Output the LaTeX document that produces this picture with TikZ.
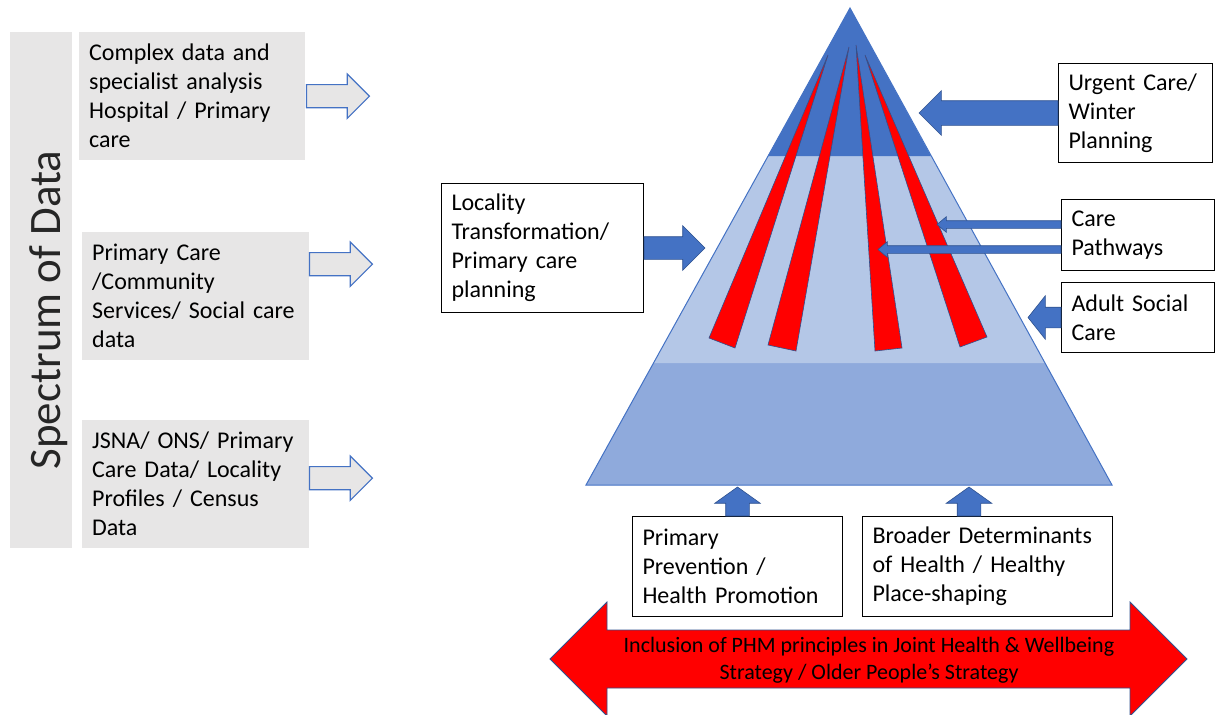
\documentclass[tikz,border=0pt]{standalone}
\usepackage{fontspec}
\setmainfont{Carlito}
\usetikzlibrary{shapes.arrows}

\definecolor{boxgray}{HTML}{E7E6E6}
\definecolor{pyrdark}{HTML}{4472C4}
\definecolor{pyrlight}{HTML}{B4C7E7}
\definecolor{pyrmid}{HTML}{8FAADC}
\definecolor{edgeblue}{HTML}{2F528F}
\definecolor{stripered}{HTML}{FF0000}

\tikzstyle{databox} = [rectangle, fill=boxgray, anchor=north west, align=left, inner xsep=10pt, inner ysep=0pt, font=\fontsize{24}{29}\selectfont]
\tikzstyle{textbox} = [rectangle, draw=black, line width=1pt, fill=white, anchor=north west, align=left, inner xsep=10pt, inner ysep=0pt, font=\fontsize{24}{29}\selectfont]
\tikzstyle{dataarrow} = [single arrow, draw=pyrdark, line width=1.2pt, fill=boxgray, single arrow head extend=10.5pt, single arrow tip angle=90, inner xsep=0pt, inner ysep=11pt, minimum height=63pt, outer sep=0pt, anchor=tail]
\tikzstyle{blockarrow} = [single arrow, draw=edgeblue, line width=0.6pt, fill=pyrdark, inner xsep=0pt, outer sep=0pt, anchor=tail]
\tikzstyle{stripe} = [fill=stripered, draw=edgeblue, line width=0.6pt]
\tikzstyle{strategyarrow} = [fill=stripered, draw=edgeblue, line width=0.8pt]

\begin{document}
\begin{tikzpicture}[x=1pt, y=-1pt]
    \useasboundingbox (0,0) rectangle (1216,715);

        % Pyramid
        \fill[pyrmid] (653.5,363) -- (1045,363) -- (1112,485) -- (586,485) -- cycle;
        \fill[pyrlight] (768,156) -- (931,156) -- (1045,363) -- (653.5,363) -- cycle;
        \fill[pyrdark] (850,8) -- (931,156) -- (768,156) -- cycle;
        \draw[pyrdark, line width=1pt] (850,8) -- (1112,485) -- (586,485) -- cycle;

        % Stripes
        \draw[stripe] (828,55) -- (735,348) -- (709,338) -- cycle;
        \draw[stripe] (849,47) -- (796,351) -- (768,345) -- cycle;
        \draw[stripe] (856,45) -- (902,348) -- (875,351) -- cycle;
        \draw[stripe] (865,55) -- (987,337) -- (960,347) -- cycle;

        % Data side
        \node (spectrum) [databox, minimum width=62pt, minimum height=516pt] at (10,32) {};
        \node (spectrumtext) [rotate=90, text=black!85, font=\fontsize{45}{54}\selectfont] at (49,310) {Spectrum of Data};
        \node (dataA) [databox, text width=206pt, minimum height=128pt] at (79,32) {Complex data and\\specialist analysis\\Hospital / Primary\\care};
        \node (dataB) [databox, text width=207pt, minimum height=128pt] at (82,232) {Primary Care\\/Community\\Services/ Social care\\data};
        \node (dataC) [databox, text width=207pt, minimum height=128pt] at (82,420) {JSNA/ ONS/ Primary\\Care Data/ Locality\\Profiles / Census\\Data};

        \node (arrowA) [dataarrow] at ([xshift=1pt]dataA.east) {};
        \node (arrowB) [dataarrow] at ([yshift=32pt]dataB.east) {};
        \node (arrowC) [dataarrow] at ([yshift=6pt]dataC.east) {};

        % Boxes round the pyramid
        \node (locality) [textbox, text width=182pt, minimum height=129pt] at (441,183) {Locality\\Transformation/\\Primary care\\planning};
        \node (urgent) [textbox, text width=134pt, minimum height=99pt] at (1058,63) {Urgent Care/\\Winter\\Planning};
        \node (care) [textbox, text width=133pt, minimum height=71pt] at (1061,199) {Care\\Pathways};
        \node (adult) [textbox, text width=133pt, minimum height=70pt] at (1061,282) {Adult Social\\Care};
        \node (primary) [textbox, text width=190pt, minimum height=100pt] at (632,516) {Primary\\Prevention /\\Health Promotion};
        \node (broader) [textbox, text width=230pt, minimum height=100pt] at (862,516) {Broader Determinants\\of Health / Healthy\\Place-shaping};

        % Arrows into the pyramid
        \node (localityarrow) [blockarrow, minimum height=61pt, inner ysep=11pt, single arrow head extend=11pt, single arrow tip angle=90] at (locality.east) {};
        \node (urgentarrow) [blockarrow, rotate=180, minimum height=139pt, inner ysep=12pt, single arrow head extend=10pt, single arrow tip angle=90] at (urgent.west) {};
        \node (carearrowA) [blockarrow, rotate=180, minimum height=124pt, inner ysep=3.5pt, single arrow head extend=4pt, single arrow tip angle=80] at ([yshift=10.5pt]care.west) {};
        \node (carearrowB) [blockarrow, rotate=180, minimum height=183pt, inner ysep=3.5pt, single arrow head extend=4pt, single arrow tip angle=80] at ([yshift=-14.5pt]care.west) {};
        \node (adultarrow) [blockarrow, rotate=180, minimum height=33pt, inner ysep=10pt, single arrow head extend=11.5pt, single arrow tip angle=103] at (adult.west) {};
        \node (primaryarrow) [blockarrow, rotate=90, minimum height=29pt, inner ysep=11.5pt, single arrow head extend=11pt, single arrow tip angle=109] at (primary.north) {};
        \node (broaderarrow) [blockarrow, rotate=90, minimum height=29pt, inner ysep=11.5pt, single arrow head extend=11pt, single arrow tip angle=109] at ([xshift=-18.5pt]broader.north) {};

        % Strategy arrow
        \draw[strategyarrow] (550,659) -- (607,602) -- (607,630) -- (1130,630) -- (1130,602) -- (1187,659) -- (1130,716) -- (1130,688) -- (607,688) -- (607,716) -- cycle;
        \node (strategy) [align=center, font=\fontsize{22}{27}\selectfont] at (869,660) {Inclusion of PHM principles in Joint Health \& Wellbeing\\Strategy / Older People’s Strategy};

        \end{tikzpicture}
\end{document}
